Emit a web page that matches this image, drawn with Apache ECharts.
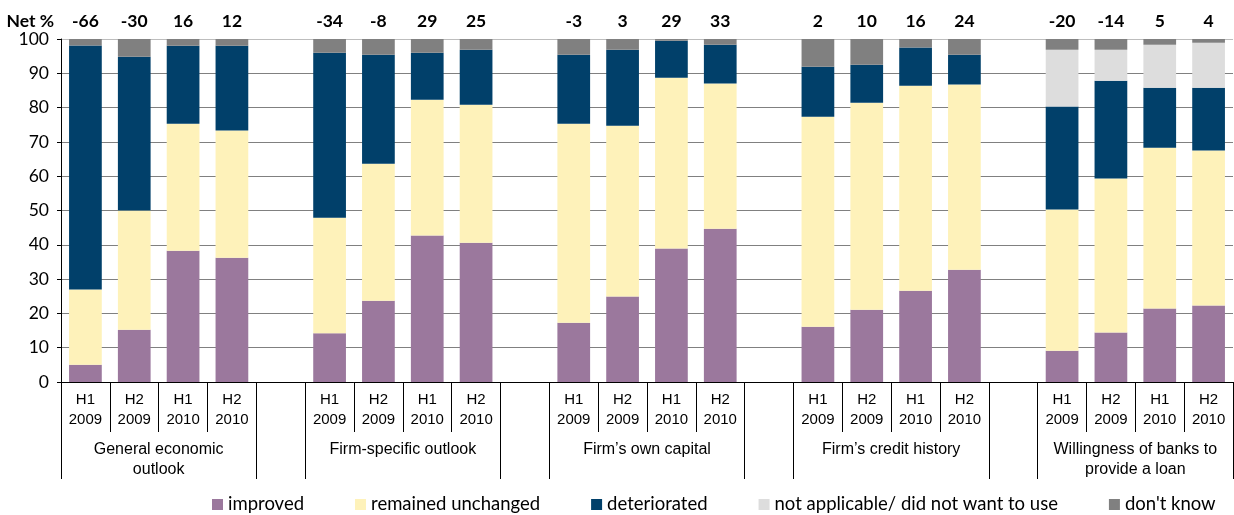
<!DOCTYPE html>
<html>
<head>
<meta charset="utf-8">
<script src="https://cdn.jsdelivr.net/npm/echarts@6/dist/echarts.min.js"></script>
<style>
  html, body { margin: 0; padding: 0; background: #fff; }
  #chart { width: 1234px; height: 515px; }
</style>
</head>
<body>
<div id="chart"></div>
<script>
// periods inside each group
var periods = ['H1\n2009', 'H2\n2009', 'H1\n2010', 'H2\n2010'];
var groupNames = ['General economic\noutlook', 'Firm-specific outlook', 'Firm\u2019s own capital', 'Firm\u2019s credit history', 'Willingness of banks to\nprovide a loan'];

// net % shown above each bar
var netValues = [-66, -30, 16, 12, -34, -8, 29, 25, -3, 3, 29, 33, 2, 10, 16, 24, -20, -14, 5, 4];

// shares (stacked, bottom to top)
var improved      = [5, 15.2, 38.3, 36.2,  14.2, 23.7, 42.7, 40.6,  17.3, 24.9, 38.9, 44.7,  16.1, 21.1, 26.6, 32.7,  9.1, 14.4, 21.4, 22.3];
var unchanged     = [22, 34.8, 37, 37.1,   33.7, 39.9, 39.6, 40.2,  58, 49.8, 49.8, 42.3,    61.2, 60.3, 59.8, 54,    41.2, 44.9, 46.9, 45.2];
var deteriorated  = [71.1, 44.8, 22.7, 24.7, 48.1, 31.8, 13.7, 16.1, 20.1, 22.2, 10.8, 11.3, 14.6, 11.1, 11.1, 8.7, 30, 28.5, 17.5, 18.3];
var notApplicable = [0, 0, 0, 0,  0, 0, 0, 0,  0, 0, 0, 0,  0, 0, 0, 0,  16.6, 9.1, 12.5, 13.1];
var dontKnow      = [1.9, 5.2, 2, 2,  4, 4.6, 4, 3.1,  4.6, 3.1, 0.5, 1.7,  8.1, 7.5, 2.5, 4.6,  3.1, 3.1, 1.7, 1.1];

var seriesNames = ['improved', 'remained unchanged', 'deteriorated', 'not applicable/ did not want to use', "don't know"];
var colors = ['#9B789D', '#FEF2BA', '#01406A', '#DDDDDD', '#808080'];

// one empty slot between groups
function withGaps(arr, blank) {
    var out = [];
    for (var i = 0; i < arr.length; i++) {
        out.push(arr[i]);
        if (i % 4 == 3 && i < arr.length - 1) out.push(blank);
    }
    return out;
}

var categories = withGaps(groupNames.map(function () { return periods; }).reduce(function (a, b) { return a.concat(b); }, []), '');
var netLabels = withGaps(netValues.map(String), '');
var slots = categories.length; // 24

// group boundaries / centres on the 0..slots scale
var groupTicks = [], groupCenters = [];
for (var g = 0; g < groupNames.length; g++) {
    var s = g * 5;
    groupTicks.push(s, s + 4);
    groupCenters.push(s + 2);
}

var stackData = [improved, unchanged, deteriorated, notApplicable, dontKnow];
var series = stackData.map(function (vals, i) {
    return {
        name: seriesNames[i],
        type: 'bar',
        stack: 'total',
        barWidth: '67%',
        xAxisIndex: 0,
        itemStyle: { color: colors[i] },
        data: withGaps(vals, null)
    };
});

var gridColors = ['#808080', '#808080', '#808080', '#808080', '#808080', '#808080', '#808080', '#808080', '#808080', '#808080', '#bdbdbd'];

var option = {
    backgroundColor: '#fff',
    animation: false,
    color: colors,
    grid: { left: 61, right: 1, top: 39, bottom: 133 },
    legend: {
        left: 207,
        top: 490,
        icon: 'rect',
        itemWidth: 11,
        itemHeight: 11,
        itemGap: 51,
        textStyle: { fontFamily: 'Lato', fontSize: 18.5, color: '#000' },
        data: seriesNames
    },
    xAxis: [
        {
            type: 'category',
            position: 'bottom',
            data: categories,
            axisLine: { lineStyle: { color: '#000', width: 1 } },
            axisTick: { show: true, interval: 0, length: 50, lineStyle: { color: '#000' } },
            axisLabel: {
                interval: 0,
                margin: 8,
                fontFamily: 'Liberation Sans Narrow, Arial Narrow, sans-serif',
                fontSize: 15,
                lineHeight: 20,
                color: '#000'
            }
        },
        {
            type: 'value',
            position: 'bottom',
            min: 0,
            max: slots,
            axisLine: { show: false },
            splitLine: { show: false },
            axisTick: { show: true, customValues: groupTicks.concat([slots]), length: 97, lineStyle: { color: '#000' } },
            axisLabel: {
                customValues: groupCenters,
                margin: 58,
                fontFamily: 'Liberation Sans Narrow, Arial Narrow, sans-serif',
                fontSize: 16,
                lineHeight: 20,
                color: '#000',
                formatter: function (v) {
                    return groupNames[Math.round((v - 2) / 5)];
                }
            }
        },
        {
            type: 'category',
            position: 'top',
            data: netLabels,
            axisLine: { show: false },
            axisTick: { show: false },
            axisLabel: {
                interval: 0,
                margin: 9,
                fontFamily: 'Lato',
                fontWeight: 'bold',
                fontSize: 17.5,
                color: '#000'
            }
        }
    ],
    yAxis: {
        type: 'value',
        min: 0,
        max: 100,
        interval: 10,
        name: 'Net %',
        nameLocation: 'end',
        nameGap: 9,
        nameTextStyle: { fontFamily: 'Lato', fontWeight: 'bold', fontSize: 17.5, color: '#000', align: 'right', padding: [0, 7, 0, 0] },
        axisLine: { show: true, lineStyle: { color: '#000' } },
        axisTick: { show: true, length: 4, lineStyle: { color: '#000' } },
        axisLabel: { fontFamily: 'Lato', fontSize: 17.5, color: '#000', margin: 12 },
        splitLine: { show: true, lineStyle: { color: gridColors, width: 1 } }
    },
    series: series
};

var chart = echarts.init(document.getElementById('chart'));
chart.setOption(option);
</script>
</body>
</html>
